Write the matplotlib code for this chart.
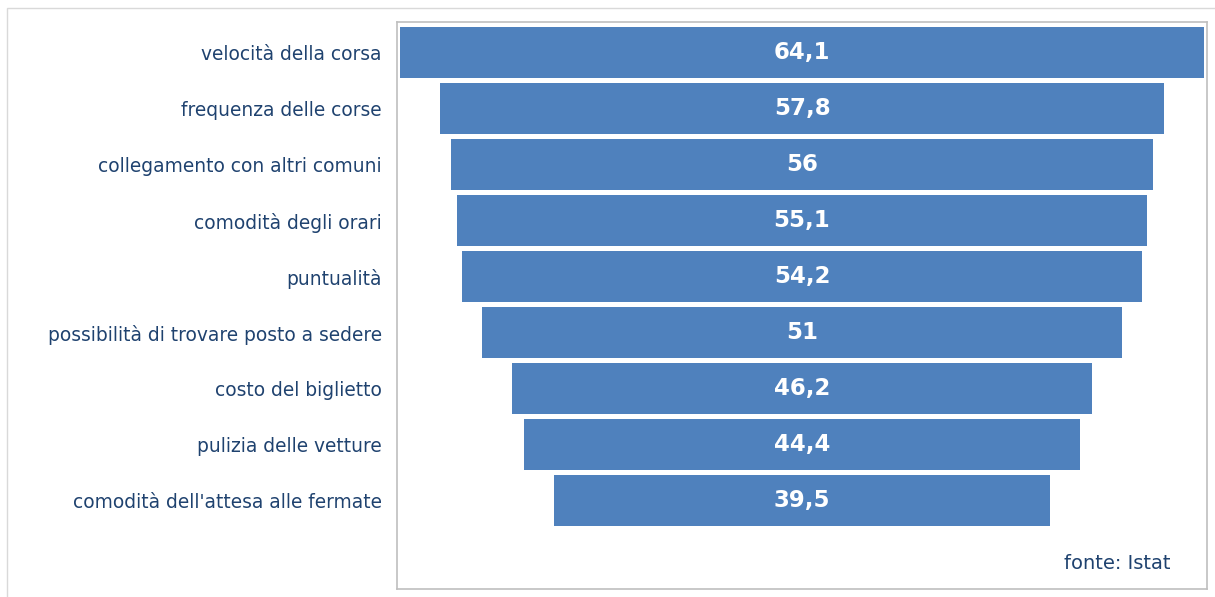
import matplotlib
matplotlib.use("Agg")
import matplotlib.pyplot as plt
from matplotlib.patches import Rectangle

categories = [
    "velocità della corsa",
    "frequenza delle corse",
    "collegamento con altri comuni",
    "comodità degli orari",
    "puntualità",
    "possibilità di trovare posto a sedere",
    "costo del biglietto",
    "pulizia delle vetture",
    "comodità dell'attesa alle fermate",
]
values = [64.1, 57.8, 56, 55.1, 54.2, 51, 46.2, 44.4, 39.5]
value_labels = ["64,1", "57,8", "56", "55,1", "54,2", "51", "46,2", "44,4", "39,5"]
source_text = "fonte: Istat"

BAR_COLOR = "#4F81BD"
TEXT_COLOR = "#1F426F"

W, H = 1215, 597
fig = plt.figure(figsize=(W / 100, H / 100), dpi=100)
plt.rcParams["font.family"] = ["DejaVu Sans"]

# outer frame
fig.patches.append(Rectangle((7 / W, -0.01), 1.02, 1 - 8 / H + 0.01,
                             transform=fig.transFigure, fill=False,
                             edgecolor="#D9D9D9", linewidth=1.0))

# plot area box
left, right, top, bottom = 397, 1207, 22, 589
ax = fig.add_axes([left / W, 1 - bottom / H, (right - left) / W, (bottom - top) / H])
for s in ax.spines.values():
    s.set_color("#BFBFBF")
    s.set_linewidth(1.2)

ypos = list(range(len(values)))
lefts = [-v / 2 for v in values]
ax.barh(ypos, values, left=lefts, height=0.91, color=BAR_COLOR, edgecolor="none")

for y, v, lab in zip(ypos, values, value_labels):
    ax.text(0, y, lab, ha="center", va="center", color="white",
            fontsize=16.5, fontweight="bold")

ax.set_xlim(-32.3, 32.3)
ax.set_ylim(9.57, -0.544)
ax.set_xticks([])
ax.set_yticks(ypos)
ax.set_yticklabels(categories, color=TEXT_COLOR, fontsize=13.4)
ax.tick_params(axis="y", length=0, pad=11)

ax.text(0.955, 0.045, source_text, transform=ax.transAxes, ha="right", va="center",
        color=TEXT_COLOR, fontsize=14)

fig.savefig("out.png", dpi=100)
